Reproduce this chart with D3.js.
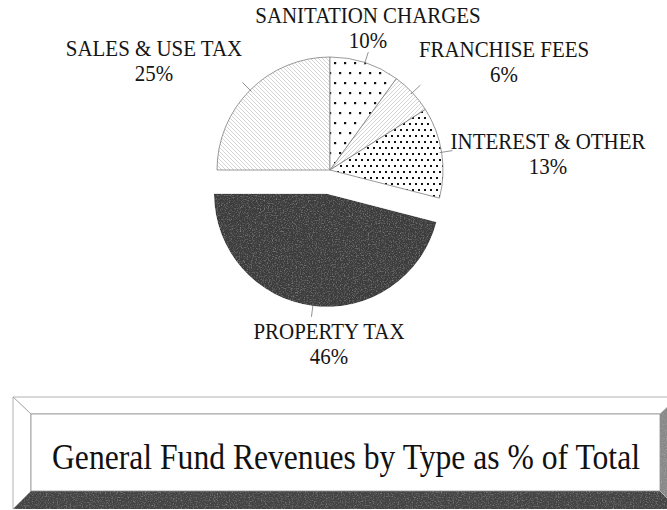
<!DOCTYPE html>
<html>
<head>
<meta charset="utf-8">
<script src="https://cdn.jsdelivr.net/npm/d3@7/dist/d3.min.js"></script>
<style>
  html, body { margin: 0; padding: 0; background: #fff; }
  svg { display: block; }
</style>
</head>
<body>
<script>
// Revenue categories and their share of the general fund (percent)
const categories = ["SALES & USE TAX", "SANITATION CHARGES", "FRANCHISE FEES", "INTEREST & OTHER", "PROPERTY TAX"];
const shares = [25, 10, 6, 13, 46];
const percentLabels = ["25%", "10%", "6%", "13%", "46%"];
const fills = ["url(#hatchBack)", "url(#dotsSparse)", "url(#hatchFwd)", "url(#dotsDense)", "#3e3e3e"];
const explodedCategory = "PROPERTY TAX";
const chartTitle = "General Fund Revenues by Type as % of Total";

// Label anchor positions (centre x, baseline of first line)
const labelLayout = {
  "SALES & USE TAX":    { x: 154, y: 56 },
  "SANITATION CHARGES": { x: 368, y: 23 },
  "FRANCHISE FEES":     { x: 504, y: 57 },
  "INTEREST & OTHER":   { x: 548, y: 149 },
  "PROPERTY TAX":       { x: 329, y: 339 }
};

const FONT = "'Liberation Serif', 'Times New Roman', Times, serif";
const W = 667, H = 510;
const cx = 330, cy = 170, R = 113, explode = 24;

const svg = d3.select("body").append("svg").attr("width", W).attr("height", H);
const defs = svg.append("defs");

// Diagonal hatch "\"
const hb = defs.append("pattern").attr("id", "hatchBack").attr("patternUnits", "userSpaceOnUse")
  .attr("width", 4).attr("height", 4);
hb.append("rect").attr("width", 4).attr("height", 4).attr("fill", "#fff");
hb.append("path").attr("d", "M-1,-1 L5,5 M-1,3 L1,5 M3,-1 L5,1")
  .attr("stroke", "#b8b8b8").attr("stroke-width", 0.6);

// Diagonal hatch "/"
const hf = defs.append("pattern").attr("id", "hatchFwd").attr("patternUnits", "userSpaceOnUse")
  .attr("width", 4).attr("height", 4);
hf.append("rect").attr("width", 4).attr("height", 4).attr("fill", "#fff");
hf.append("path").attr("d", "M-1,5 L5,-1 M-1,1 L1,-1 M3,5 L5,3")
  .attr("stroke", "#b8b8b8").attr("stroke-width", 0.6);

// Sparse staggered dots
const ds = defs.append("pattern").attr("id", "dotsSparse").attr("patternUnits", "userSpaceOnUse")
  .attr("width", 20).attr("height", 20).attr("x", cx + 2).attr("y", cy);
ds.append("rect").attr("width", 20).attr("height", 20).attr("fill", "#fff");
[[2, 2], [12, 2], [7, 12], [17, 12]].forEach(([x, y]) =>
  ds.append("rect").attr("x", x).attr("y", y).attr("width", 2.2).attr("height", 2.2).attr("fill", "#111"));

// Dense staggered dots
const dd = defs.append("pattern").attr("id", "dotsDense").attr("patternUnits", "userSpaceOnUse")
  .attr("width", 12).attr("height", 12);
dd.append("rect").attr("width", 12).attr("height", 12).attr("fill", "#fff");
[[1, 1], [7, 1], [4, 7], [10, 7]].forEach(([x, y]) =>
  dd.append("rect").attr("x", x).attr("y", y).attr("width", 2).attr("height", 2).attr("fill", "#111"));

// Subtle grain texture for dark fills
const grain = defs.append("filter").attr("id", "grain")
  .attr("x", 0).attr("y", 0).attr("width", "100%").attr("height", "100%");
grain.append("feTurbulence").attr("type", "fractalNoise").attr("baseFrequency", 0.75)
  .attr("numOctaves", 3).attr("seed", 7).attr("result", "noise");
grain.append("feColorMatrix").attr("in", "noise").attr("type", "matrix")
  .attr("values", "0.14 0.14 0 0 0.36  0.14 0.14 0 0 0.36  0.14 0.14 0 0 0.36  0 0 0 0 1")
  .attr("result", "gray");
grain.append("feBlend").attr("in", "SourceGraphic").attr("in2", "gray").attr("mode", "overlay").attr("result", "mix");
grain.append("feComposite").attr("in", "mix").attr("in2", "SourceGraphic").attr("operator", "in");

// Pie layout, first slice starting at 9 o'clock, running clockwise
const pie = d3.pie().sort(null).value(d => d.value)
  .startAngle(-Math.PI / 2).endAngle(3 * Math.PI / 2);
const data = categories.map((c, i) => ({ name: c, value: shares[i], pct: percentLabels[i], fill: fills[i] }));
const arcs = pie(data);
const arc = d3.arc().innerRadius(0).outerRadius(R);

function offsetOf(a) {
  if (a.data.name !== explodedCategory) return [0, 0];
  const m = (a.startAngle + a.endAngle) / 2;
  return [Math.sin(m) * explode, -Math.cos(m) * explode];
}

const g = svg.append("g").attr("transform", `translate(${cx},${cy})`);

g.selectAll("path.slice").data(arcs).join("path")
  .attr("class", "slice")
  .attr("transform", d => `translate(${offsetOf(d)})`)
  .attr("d", arc)
  .attr("fill", d => d.data.fill)
  .attr("filter", d => d.data.name === explodedCategory ? "url(#grain)" : null)
  .attr("stroke", d => d.data.name === explodedCategory ? "none" : "#808080")
  .attr("stroke-width", 0.8);

// Leader ticks
g.selectAll("line.leader").data(arcs).join("line")
  .attr("class", "leader")
  .each(function (d) {
    const m = (d.startAngle + d.endAngle) / 2;
    const [ox, oy] = offsetOf(d);
    const r0 = R - 2, r1 = R + 11;
    d3.select(this)
      .attr("x1", ox + Math.sin(m) * r0).attr("y1", oy - Math.cos(m) * r0)
      .attr("x2", ox + Math.sin(m) * r1).attr("y2", oy - Math.cos(m) * r1);
  })
  .attr("stroke", "#777").attr("stroke-width", 0.8);

// Category labels (slightly condensed serif)
const lab = svg.selectAll("g.lab").data(arcs).join("g").attr("class", "lab")
  .attr("transform", d => `translate(${labelLayout[d.data.name].x},${labelLayout[d.data.name].y}) scale(0.91,1)`);
lab.append("text")
  .attr("x", 0).attr("y", 0)
  .attr("text-anchor", "middle").attr("font-size", 23)
  .attr("font-family", FONT).attr("fill", "#151515")
  .text(d => d.data.name);
lab.append("text")
  .attr("x", 0).attr("y", 25)
  .attr("text-anchor", "middle").attr("font-size", 23)
  .attr("font-family", FONT).attr("fill", "#151515")
  .text(d => d.data.pct);

// Bevelled title panel
const ox0 = 13, oy0 = 397, ox1 = 678, oy1 = 509;
const ix0 = 31, iy0 = 414, ix1 = 660, iy1 = 491;
const panel = svg.append("g");
const pts = a => a.map(p => p.join(",")).join(" ");
panel.append("polygon").attr("points", pts([[ox0, oy0], [ox1, oy0], [ix1, iy0], [ix0, iy0]]))
  .attr("fill", "#fff").attr("stroke", "#a0a0a0").attr("stroke-width", 0.8);
panel.append("polygon").attr("points", pts([[ox0, oy0], [ix0, iy0], [ix0, iy1], [ox0, oy1]]))
  .attr("fill", "#fff").attr("stroke", "#a0a0a0").attr("stroke-width", 0.8);
panel.append("polygon").attr("points", pts([[ox1, oy0], [ox1, oy1], [ix1, iy1], [ix1, iy0]]))
  .attr("fill", "#8a8a8a").attr("filter", "url(#grain)");
panel.append("polygon").attr("points", pts([[ox0, oy1], [ix0, iy1], [ix1, iy1], [ox1, oy1]]))
  .attr("fill", "#454545").attr("filter", "url(#grain)");
panel.append("rect").attr("x", ix0).attr("y", iy0).attr("width", ix1 - ix0).attr("height", iy1 - iy0)
  .attr("fill", "#fff").attr("stroke", "#909090").attr("stroke-width", 0.8);

// Title, condensed horizontally to span the panel face
const titleG = panel.append("g");
const title = titleG.append("text")
  .attr("x", 0).attr("y", 0)
  .attr("text-anchor", "middle").attr("font-size", 36)
  .attr("font-family", FONT).attr("fill", "#111")
  .text(chartTitle);
const tw = title.node().getComputedTextLength();
const sx = Math.min(1, 588 / tw);
titleG.attr("transform", `translate(${(52 + 640) / 2},469) scale(${sx},1)`);
</script>
</body>
</html>
